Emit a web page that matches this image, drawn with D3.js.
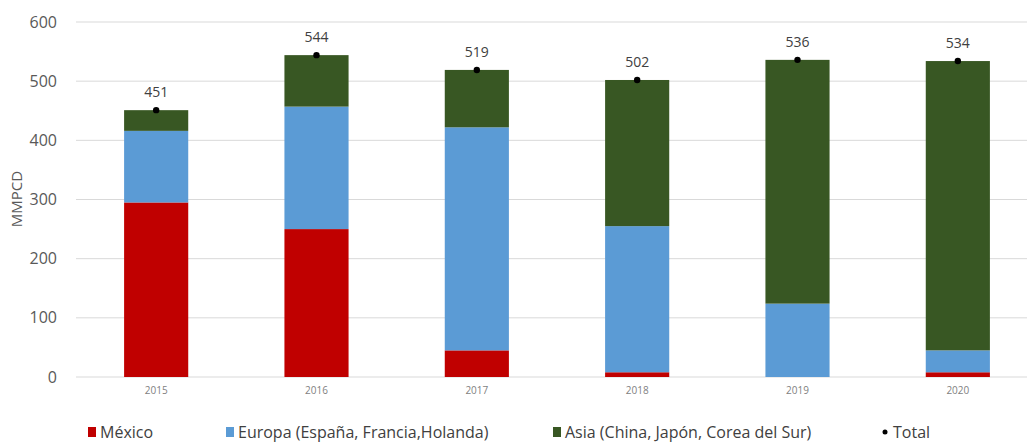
<!DOCTYPE html>
<html><head><meta charset="utf-8">
<script src="https://cdn.jsdelivr.net/npm/d3@7"></script>
<style>body{margin:0;background:#fff;} svg{display:block;}</style>
</head><body>
<svg id="c" width="1027" height="444"></svg>
<script>
const years = ["2015","2016","2017","2018","2019","2020"];
const mexico = [295, 250, 45, 8, 0, 8];
const europa = [121, 207, 377, 247, 124, 37];
const asia   = [35, 87, 97, 247, 412, 489];
const totals = [451, 544, 519, 502, 536, 534];
const yTicks = [0, 100, 200, 300, 400, 500, 600];
const seriesNames = ["México", "Europa (España, Francia,Holanda)", "Asia (China, Japón, Corea del Sur)"];
const seriesColors = ["#C00000", "#5B9BD5", "#385723"];

const svg = d3.select("#c");
const x = d3.scaleBand().domain(years).range([76, 1038]).paddingInner(0.6).paddingOuter(0.3);
const y = d3.scaleLinear().domain([0, 600]).range([377, 22]);

// gridlines
svg.append("g").selectAll("line").data(yTicks).join("line")
  .attr("x1", 76).attr("x2", 1027)
  .attr("y1", d => y(d)).attr("y2", d => y(d))
  .attr("stroke", "#d9d9d9").attr("stroke-width", 1);

// y axis labels
const yAxis = d3.axisLeft(y).tickValues(yTicks).tickSize(0).tickPadding(8);
const gy = svg.append("g").attr("transform", "translate(65,0)").call(yAxis);
gy.select(".domain").remove();
gy.selectAll("text").attr("font-family", "'Open Sans', sans-serif").attr("font-size", 16).attr("fill", "#595959");

svg.append("text").attr("transform", "translate(22,199) rotate(-90)")
  .attr("text-anchor", "middle").attr("font-family", "'Open Sans', sans-serif")
  .attr("font-size", 15).attr("fill", "#595959").text("MMPCD");

// x axis labels
const xAxis = d3.axisBottom(x).tickSize(0).tickPadding(10);
const gx = svg.append("g").attr("transform", "translate(0,377)").call(xAxis);
gx.select(".domain").remove();
gx.selectAll("text").attr("font-family", "'Open Sans', sans-serif").attr("font-size", 10).attr("fill", "#7f7f7f");

// stacked data
const rows = years.map((yr, i) => ({year: yr, m: mexico[i], e: europa[i], a: asia[i]}));
const stack = d3.stack().keys(["m", "e", "a"])(rows);
svg.append("g").selectAll("g").data(stack).join("g")
  .attr("fill", (d, i) => seriesColors[i])
  .selectAll("rect").data(d => d).join("rect")
  .attr("x", d => x(d.data.year))
  .attr("width", x.bandwidth())
  .attr("y", d => y(d[1]))
  .attr("height", d => y(d[0]) - y(d[1]));

// totals
const tg = svg.append("g");
tg.selectAll("circle").data(totals).join("circle")
  .attr("cx", (d, i) => x(years[i]) + x.bandwidth() / 2)
  .attr("cy", d => y(d)).attr("r", 3.2).attr("fill", "#000");
tg.selectAll("text").data(totals).join("text")
  .attr("x", (d, i) => x(years[i]) + x.bandwidth() / 2)
  .attr("y", d => y(d) - 13)
  .attr("text-anchor", "middle").attr("font-family", "'Open Sans', sans-serif")
  .attr("font-size", 14).attr("fill", "#404040").text(d => d);

// legend
const legX = [88, 226, 553];
const lg = svg.append("g");
seriesNames.forEach((n, i) => {
  lg.append("rect").attr("x", legX[i]).attr("y", 427).attr("width", 8).attr("height", 10).attr("fill", seriesColors[i]);
  lg.append("text").attr("x", legX[i] + 12).attr("y", 438)
    .attr("font-family", "'Open Sans', sans-serif")
    .attr("font-size", 16).attr("fill", "#404040").text(n);
});
lg.append("circle").attr("cx", 885).attr("cy", 432).attr("r", 2.5).attr("fill", "#000");
lg.append("text").attr("x", 893).attr("y", 438)
  .attr("font-family", "'Open Sans', sans-serif")
  .attr("font-size", 16).attr("fill", "#404040").text("Total");
</script>
</body></html>
